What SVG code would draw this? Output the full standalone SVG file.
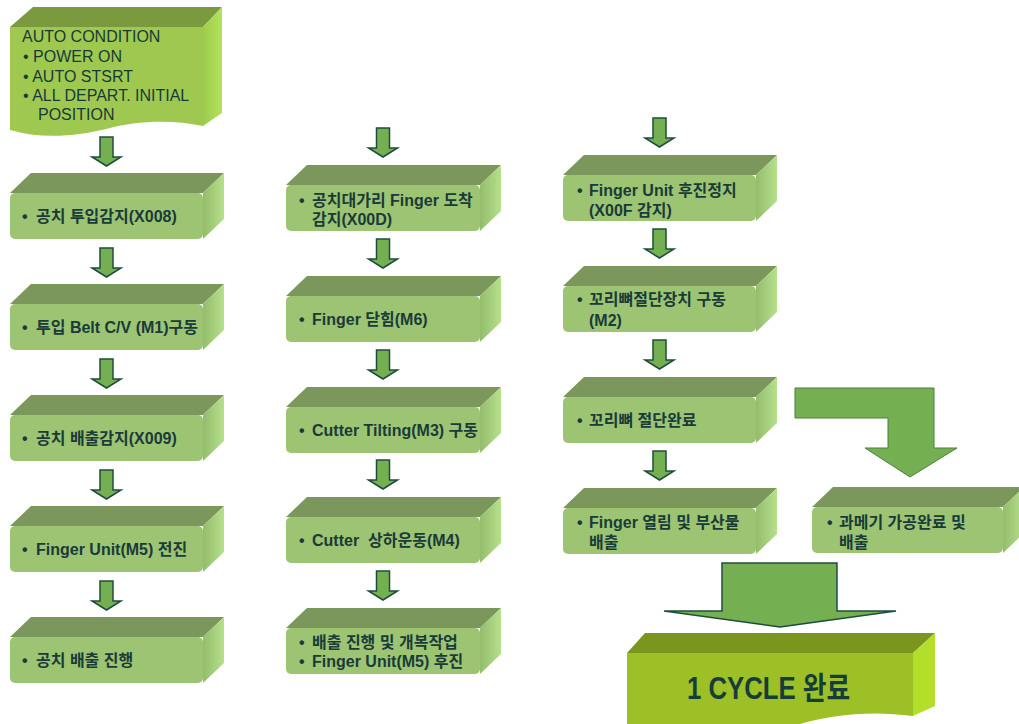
<svg xmlns="http://www.w3.org/2000/svg" width="1019" height="724" viewBox="0 0 1019 724">
<style>
.top{fill:#7b975c}
.front{fill:#9dc473}
.side{fill:url(#sideG)}
.stop{fill:#7b9a3e}
.sfront{fill:#9fc850}
.sside{fill:url(#sideS)}
.ftop{fill:#7a961f}
.ffront{fill:#9cc026}
.fside{fill:#b3df2b}
.arr{fill:#74b052;stroke:#1e4d3c;stroke-width:1.5;stroke-linejoin:miter}
.t{font-family:"Liberation Sans","Noto Sans CJK KR",sans-serif;font-size:16px;font-weight:bold;fill:#193b39}
.st{font-family:"Liberation Sans","Noto Sans CJK KR",sans-serif;font-size:16px;fill:#173a38}
.big{font-family:"Liberation Sans","Noto Sans CJK KR",sans-serif;font-size:31px;font-weight:bold;fill:#173d3a}
</style>
<defs>
<linearGradient id="sideG" x1="0" y1="0" x2="1" y2="0">
<stop offset="0" stop-color="#93bd6c"/>
<stop offset="1" stop-color="#b6e08b"/>
</linearGradient>
<linearGradient id="sideS" x1="0" y1="0" x2="1" y2="0">
<stop offset="0" stop-color="#9ccc4c"/>
<stop offset="1" stop-color="#b5e25a"/>
</linearGradient>
<path id="sa" class="arr" d="M-6.5,0 H6.5 V20 H14.5 L0,29 L-14.5,20 H-6.5 Z"/>
</defs>

<g id="connectors">
<use href="#sa" x="106.5" y="137"/>
<use href="#sa" x="106.5" y="248"/>
<use href="#sa" x="106.5" y="359"/>
<use href="#sa" x="106.5" y="470"/>
<use href="#sa" x="106.5" y="581"/>
<use href="#sa" x="383" y="128"/>
<use href="#sa" x="383" y="239"/>
<use href="#sa" x="383" y="350"/>
<use href="#sa" x="383" y="460"/>
<use href="#sa" x="383" y="571"/>
<use href="#sa" x="659.5" y="118"/>
<use href="#sa" x="659.5" y="229"/>
<use href="#sa" x="659.5" y="340"/>
<use href="#sa" x="659.5" y="451"/>
<path d="M795,388 H934 V448 H957 L910,477 L865,448 H888 V418 H795 Z" fill="#74b052" stroke="#4f7f3f" stroke-width="1"/>
<path class="arr" d="M722,563 H837 V611 H896 L780,627 L664,611 H722 Z"/>
</g>

<g id="start">
<polygon class="stop" points="10,27 33,7 222,7 203,27"/>
<polygon class="sside" points="203,27 222,7 222,113 203,126"/>
<path class="sfront" d="M10,27 H203 V126 C175,120 140,120 110,128 C75,137 40,139 10,130 Z"/>
<text class="st" x="22" y="42">AUTO CONDITION</text>
<text class="st" x="23" y="62">• POWER ON</text>
<text class="st" x="23" y="81.5">• AUTO STSRT</text>
<text class="st" x="23" y="101">• ALL DEPART. INITIAL</text>
<text class="st" x="38" y="120">POSITION</text>
</g>

<g id="n1">
<polygon class="top" points="10,193 31,173 224,173 203,193"/>
<polygon class="side" points="203,193 224,173 224,219 203,239"/>
<rect class="front" x="10" y="193" width="193" height="46" rx="5"/>
<text class="t" x="22" y="222">•<tspan x="36">공치 투입감지(X008)</tspan></text>
</g>
<g id="n2">
<polygon class="top" points="10,304 31,284 224,284 203,304"/>
<polygon class="side" points="203,304 224,284 224,330 203,350"/>
<rect class="front" x="10" y="304" width="193" height="46" rx="5"/>
<text class="t" x="22" y="333">•<tspan x="36">투입 Belt C/V (M1)구동</tspan></text>
</g>
<g id="n3">
<polygon class="top" points="10,415 31,395 224,395 203,415"/>
<polygon class="side" points="203,415 224,395 224,441 203,461"/>
<rect class="front" x="10" y="415" width="193" height="46" rx="5"/>
<text class="t" x="22" y="444">•<tspan x="36">공치 배출감지(X009)</tspan></text>
</g>
<g id="n4">
<polygon class="top" points="10,526 31,506 224,506 203,526"/>
<polygon class="side" points="203,526 224,506 224,552 203,572"/>
<rect class="front" x="10" y="526" width="193" height="46" rx="5"/>
<text class="t" x="22" y="555">•<tspan x="36">Finger Unit(M5) 전진</tspan></text>
</g>
<g id="n5">
<polygon class="top" points="10,637 31,617 224,617 203,637"/>
<polygon class="side" points="203,637 224,617 224,663 203,683"/>
<rect class="front" x="10" y="637" width="193" height="46" rx="5"/>
<text class="t" x="22" y="666">•<tspan x="36">공치 배출 진행</tspan></text>
</g>

<g id="n6">
<polygon class="top" points="286,185 307,165 501,165 480,185"/>
<polygon class="side" points="480,185 501,165 501,211 480,231"/>
<rect class="front" x="286" y="185" width="194" height="46" rx="5"/>
<text class="t" x="299" y="206">•<tspan x="312">공치대가리 Finger 도착</tspan></text>
<text class="t" x="312" y="225">감지(X00D)</text>
</g>
<g id="n7">
<polygon class="top" points="286,296 307,276 501,276 480,296"/>
<polygon class="side" points="480,296 501,276 501,322 480,342"/>
<rect class="front" x="286" y="296" width="194" height="46" rx="5"/>
<text class="t" x="299" y="325">•<tspan x="312">Finger 닫힘(M6)</tspan></text>
</g>
<g id="n8">
<polygon class="top" points="286,407 307,387 501,387 480,407"/>
<polygon class="side" points="480,407 501,387 501,433 480,453"/>
<rect class="front" x="286" y="407" width="194" height="46" rx="5"/>
<text class="t" x="299" y="436">•<tspan x="312">Cutter Tilting(M3) 구동</tspan></text>
</g>
<g id="n9">
<polygon class="top" points="286,517 307,497 501,497 480,517"/>
<polygon class="side" points="480,517 501,497 501,543 480,563"/>
<rect class="front" x="286" y="517" width="194" height="46" rx="5"/>
<text class="t" x="299" y="546" xml:space="preserve">•<tspan x="312">Cutter  상하운동(M4)</tspan></text>
</g>
<g id="n10">
<polygon class="top" points="286,628 307,608 501,608 480,628"/>
<polygon class="side" points="480,628 501,608 501,654 480,674"/>
<rect class="front" x="286" y="628" width="194" height="46" rx="5"/>
<text class="t" x="299" y="648">•<tspan x="312">배출 진행 및 개복작업</tspan></text>
<text class="t" x="299" y="667">•<tspan x="312">Finger Unit(M5) 후진</tspan></text>
</g>

<g id="n11">
<polygon class="top" points="563,175 584,155 777,155 756,175"/>
<polygon class="side" points="756,175 777,155 777,201 756,221"/>
<rect class="front" x="563" y="175" width="193" height="46" rx="5"/>
<text class="t" x="577" y="196">•<tspan x="589">Finger Unit 후진정지</tspan></text>
<text class="t" x="589" y="216">(X00F 감지)</text>
</g>
<g id="n12">
<polygon class="top" points="563,286 584,266 777,266 756,286"/>
<polygon class="side" points="756,286 777,266 777,312 756,332"/>
<rect class="front" x="563" y="286" width="193" height="46" rx="5"/>
<text class="t" x="577" y="305">•<tspan x="589">꼬리뼈절단장치 구동</tspan></text>
<text class="t" x="589" y="326">(M2)</text>
</g>
<g id="n13">
<polygon class="top" points="563,397 584,377 777,377 756,397"/>
<polygon class="side" points="756,397 777,377 777,423 756,443"/>
<rect class="front" x="563" y="397" width="193" height="46" rx="5"/>
<text class="t" x="577" y="426">•<tspan x="589">꼬리뼈 절단완료</tspan></text>
</g>
<g id="n14">
<polygon class="top" points="563,508 584,488 777,488 756,508"/>
<polygon class="side" points="756,508 777,488 777,534 756,554"/>
<rect class="front" x="563" y="508" width="193" height="46" rx="5"/>
<text class="t" x="577" y="528">•<tspan x="589">Finger 열림 및 부산물</tspan></text>
<text class="t" x="589" y="548">배출</text>
</g>
<g id="n15">
<polygon class="top" points="812,507 833,487 1024,487 1003,507"/>
<polygon class="side" points="1003,507 1024,487 1024,533 1003,553"/>
<rect class="front" x="812" y="507" width="191" height="46" rx="5"/>
<text class="t" x="827" y="528">•<tspan x="839">과메기 가공완료 및</tspan></text>
<text class="t" x="839" y="548">배출</text>
</g>

<g id="end">
<polygon class="ftop" points="627,653 645,633 935,633 913,653"/>
<polygon class="fside" points="913,653 935,633 935,706 913,716"/>
<path class="ffront" d="M627,653 H913 V716 C870,710 830,715 800,724 L627,724 Z"/>
<text class="big" transform="translate(687,699) scale(0.83,1)">1 CYCLE 완료</text>
</g>
</svg>
